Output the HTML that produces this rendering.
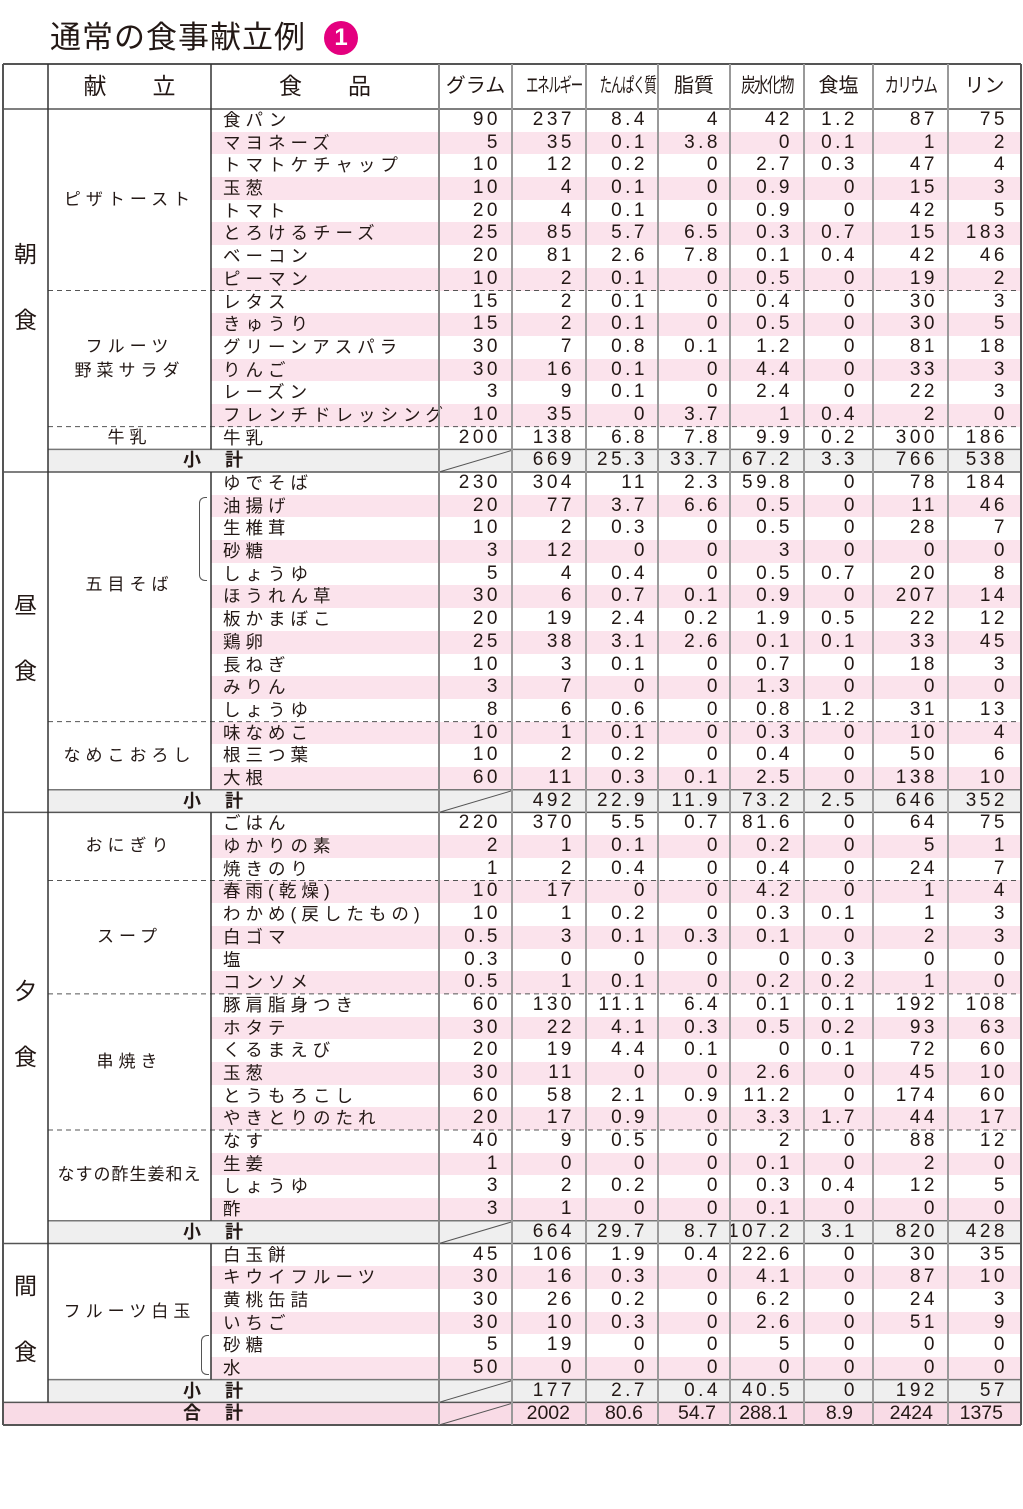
<!DOCTYPE html>
<html lang="ja"><head><meta charset="utf-8">
<style>
html,body{margin:0;padding:0;background:#fff;}
body{width:1023px;height:1509px;position:relative;overflow:hidden;font-family:"Liberation Sans","Noto Sans CJK JP",sans-serif;color:#231815;}
.a{position:absolute;box-sizing:border-box;}
.t{position:absolute;white-space:nowrap;line-height:22px;font-size:17px;}
.num{letter-spacing:3.5px;text-align:right;font-size:19px;}
.food{letter-spacing:5px;font-size:17.5px;}
</style></head><body>
<div class="t" style="left:50px;top:18px;font-size:31px;line-height:40px;letter-spacing:1px;">通常の食事献立例</div>
<div class="a" style="left:324px;top:21px;width:34px;height:34px;border-radius:50%;background:#e4007f;color:#fff;font-weight:bold;font-size:24px;line-height:34px;text-align:center;">1</div>
<div id="tbl"></div>
<script>
const meals=["朝食","昼食","夕食","間食"];
const menus=[
[["ピザトースト",8],["フルーツ|野菜サラダ",6],["牛乳",1]],
[["五目そば",11],["なめこおろし",3]],
[["おにぎり",3],["スープ",5],["串焼き",6],["なすの酢生姜和え",4]],
[["フルーツ白玉",6]]];
const foods=[
[["食パン",90,237,8.4,4,42,1.2,87,75],["マヨネーズ",5,35,0.1,3.8,0,0.1,1,2],["トマトケチャップ",10,12,0.2,0,2.7,0.3,47,4],["玉葱",10,4,0.1,0,0.9,0,15,3],["トマト",20,4,0.1,0,0.9,0,42,5],["とろけるチーズ",25,85,5.7,6.5,0.3,0.7,15,183],["ベーコン",20,81,2.6,7.8,0.1,0.4,42,46],["ピーマン",10,2,0.1,0,0.5,0,19,2],
["レタス",15,2,0.1,0,0.4,0,30,3],["きゅうり",15,2,0.1,0,0.5,0,30,5],["グリーンアスパラ",30,7,0.8,0.1,1.2,0,81,18],["りんご",30,16,0.1,0,4.4,0,33,3],["レーズン",3,9,0.1,0,2.4,0,22,3],["フレンチドレッシング",10,35,0,3.7,1,0.4,2,0],
["牛乳",200,138,6.8,7.8,9.9,0.2,300,186]],
[["ゆでそば",230,304,11,2.3,59.8,0,78,184],["油揚げ",20,77,3.7,6.6,0.5,0,11,46],["生椎茸",10,2,0.3,0,0.5,0,28,7],["砂糖",3,12,0,0,3,0,0,0],["しょうゆ",5,4,0.4,0,0.5,0.7,20,8],["ほうれん草",30,6,0.7,0.1,0.9,0,207,14],["板かまぼこ",20,19,2.4,0.2,1.9,0.5,22,12],["鶏卵",25,38,3.1,2.6,0.1,0.1,33,45],["長ねぎ",10,3,0.1,0,0.7,0,18,3],["みりん",3,7,0,0,1.3,0,0,0],["しょうゆ",8,6,0.6,0,0.8,1.2,31,13],
["味なめこ",10,1,0.1,0,0.3,0,10,4],["根三つ葉",10,2,0.2,0,0.4,0,50,6],["大根",60,11,0.3,0.1,2.5,0,138,10]],
[["ごはん",220,370,5.5,0.7,81.6,0,64,75],["ゆかりの素",2,1,0.1,0,0.2,0,5,1],["焼きのり",1,2,0.4,0,0.4,0,24,7],
["春雨(乾燥)",10,17,0,0,4.2,0,1,4],["わかめ(戻したもの)",10,1,0.2,0,0.3,0.1,1,3],["白ゴマ",0.5,3,0.1,0.3,0.1,0,2,3],["塩",0.3,0,0,0,0,0.3,0,0],["コンソメ",0.5,1,0.1,0,0.2,0.2,1,0],
["豚肩脂身つき",60,130,11.1,6.4,0.1,0.1,192,108],["ホタテ",30,22,4.1,0.3,0.5,0.2,93,63],["くるまえび",20,19,4.4,0.1,0,0.1,72,60],["玉葱",30,11,0,0,2.6,0,45,10],["とうもろこし",60,58,2.1,0.9,11.2,0,174,60],["やきとりのたれ",20,17,0.9,0,3.3,1.7,44,17],
["なす",40,9,0.5,0,2,0,88,12],["生姜",1,0,0,0,0.1,0,2,0],["しょうゆ",3,2,0.2,0,0.3,0.4,12,5],["酢",3,1,0,0,0.1,0,0,0]],
[["白玉餅",45,106,1.9,0.4,22.6,0,30,35],["キウイフルーツ",30,16,0.3,0,4.1,0,87,10],["黄桃缶詰",30,26,0.2,0,6.2,0,24,3],["いちご",30,10,0.3,0,2.6,0,51,9],["砂糖",5,19,0,0,5,0,0,0],["水",50,0,0,0,0,0,0,0]]];
const subtotals=[[669,25.3,33.7,67.2,3.3,766,538],[492,22.9,11.9,73.2,2.5,646,352],[664,29.7,8.7,107.2,3.1,820,428],[177,2.7,0.4,40.5,0,192,57]];
const grandTotal=[2002,80.6,54.7,288.1,8.9,2424,1375];
const headers=["グラム","エネルギー","たんぱく質","脂質","炭水化物","食塩","カリウム","リン"];

const T=document.getElementById('tbl');
const X=[3,48,211,439,512,586,658,730,804,873,948,1021];
const PAD=[14,14,13,12,14,18,13,16];
const TOP=64,HDR=109,H=22.69;
function box(n,l,t,w,h,st){const d=document.createElement('div');d.className='a';


d.style.cssText=`left:${l}px;top:${t}px;width:${w}px;height:${h}px;`+(st||'');T.appendChild(d);return d;}
function txt(n,s,l,t,st,cls){const d=document.createElement('div');d.className='t '+(cls||'');


d.textContent=s;d.style.cssText=`left:${l}px;top:${t}px;`+(st||'');T.appendChild(d);return d;}
function nums(vals,y,startCol,nm,plain){vals.forEach((v,i)=>{const c=startCol+i;const r=X[c+1]-PAD[c-3]+(plain?-2:3);
const d=txt(nm+'-'+(c-3),String(v),0,y,`width:${r}px;`+(plain?'letter-spacing:0;font-size:19.5px;':''),plain?'':'num');d.style.textAlign='right';});}
let row=0;const hLines=[];
meals.forEach((meal,mi)=>{
  const startRow=row;
  let fi=0;
  menus[mi].forEach((m,gi)=>{
    const gStart=row;
    for(let k=0;k<m[1];k++){
      const f=foods[mi][fi];const y=HDR+row*H;
      if(((row-startRow)%2)==1) box('stripe-row',X[2],y,X[11]-X[2],H,'background:#fbe3ec;');
      txt('food-name',f[0],X[2]+12,y,'','food');
      nums(f.slice(1),y,3,'food-value');
      row++;fi++;
    }
    const gy=HDR+gStart*H,gh=m[1]*H;
    const lines=m[0].split('|');
    txt('menu-name',lines.join('\n'),X[1],gy+gh/2-lines.length*12-(m[0]=="五目そば"?12:0),`width:${X[2]-X[1]}px;text-align:center;letter-spacing:${lines[0].length>6?1:5}px;white-space:pre;line-height:24px;`);
    if(gi<menus[mi].length-1) hLines.push([HDR+row*H,'dash']);
  });
  const sy=HDR+row*H;
  box('subtotal-row',X[1],sy,X[11]-X[1],H,'background:#efefef;');
  txt('subtotal-label','小　計',183,sy,`letter-spacing:3px;font-weight:bold;font-size:18px;`);
  nums(subtotals[mi],sy,4,'subtotal-value');
  hLines.push([sy,'sub']);
  row++;
  const my=HDR+startRow*H,mh=(row-startRow)*H;
  txt('meal-label-'+mi,meal[0],X[0],my+mh/2-50,`width:${X[1]-X[0]}px;text-align:center;font-size:23px;line-height:26px;`);
  txt('meal-label-'+mi+'b',meal[1],X[0],my+mh/2+16,`width:${X[1]-X[0]}px;text-align:center;font-size:23px;line-height:26px;`);
  hLines.push([HDR+row*H,'meal']);
});
const ty=HDR+row*H;
box('total-row',X[0],ty,X[11]-X[0],H,'background:#f9dbe6;');
txt('total-label','合　計',183,ty,`letter-spacing:3px;font-weight:bold;font-size:18px;`);
nums(grandTotal,ty,4,'total-value',true);
const bottom=ty+H;
box('bracket',199,497,8,84,'border:1px solid #555;border-right:none;border-radius:6px 0 0 6px;');
box('bracket',201,1335,8,40,'border:1px solid #555;border-right:none;border-radius:6px 0 0 6px;');
const svgNS='http://www.w3.org/2000/svg';
const svg=document.createElementNS(svgNS,'svg');svg.setAttribute('width','1023');svg.setAttribute('height','1509');


svg.style.cssText='position:absolute;left:0;top:0;';
T.appendChild(svg);
function ln(x1,y1,x2,y2,c,w,dash){const l=document.createElementNS(svgNS,'line');l.setAttribute('x1',x1);l.setAttribute('y1',y1);l.setAttribute('x2',x2);l.setAttribute('y2',y2);l.setAttribute('stroke',c);l.setAttribute('stroke-width',w);if(dash)l.setAttribute('stroke-dasharray',dash);svg.appendChild(l);}
hLines.forEach(([y,k])=>{
  if(k=='dash') ln(X[1],y,X[11],y,'#555',1,'5,4');
  else if(k=='sub'){ln(X[1],y,X[11],y,'#777',1.5);ln(X[3],y+H,X[4],y+1,'#555',1);}
  else ln(X[0],y,X[11],y,'#555',1.5);
});
ln(X[3],bottom,X[4],ty+1,'#555',1);
ln(X[0],TOP,X[11],TOP,'#555',2);ln(X[0],HDR,X[11],HDR,'#555',1.5);ln(X[0],bottom,X[11],bottom,'#555',2);
ln(X[0],TOP,X[0],bottom,'#555',2);ln(X[11],TOP,X[11],bottom,'#555',2);
ln(X[1],TOP,X[1],ty,'#333',1.5);ln(X[2],TOP,X[2],HDR,'#333',1.5);
let r2=0;meals.forEach((m,mi)=>{const n=foods[mi].length;ln(X[2],HDR+r2*H,X[2],HDR+(r2+n)*H,'#333',1.5);r2+=n+1;});
ln(X[3],TOP,X[3],bottom,'#888',2);
for(let c=4;c<11;c++) ln(X[c],TOP,X[c],bottom,'#999',2);
txt('header-menu','献　　立',X[1],TOP+8,`width:${X[2]-X[1]}px;text-align:center;font-size:23px;line-height:28px;`);
txt('header-food','食　　品',X[2],TOP+8,`width:${X[3]-X[2]}px;text-align:center;font-size:23px;line-height:28px;`);
headers.forEach((h,i)=>{const w=X[i+4]-X[i+3];const d=txt('header-'+i,h,X[i+3],TOP+9,`width:${w}px;text-align:center;font-size:20px;line-height:26px;`);
 if(h.length>=4){d.style.letterSpacing='-2px';d.style.transform='scaleX('+(h.length>=5?0.62:0.72)+')';}});
</script>
</body></html>
